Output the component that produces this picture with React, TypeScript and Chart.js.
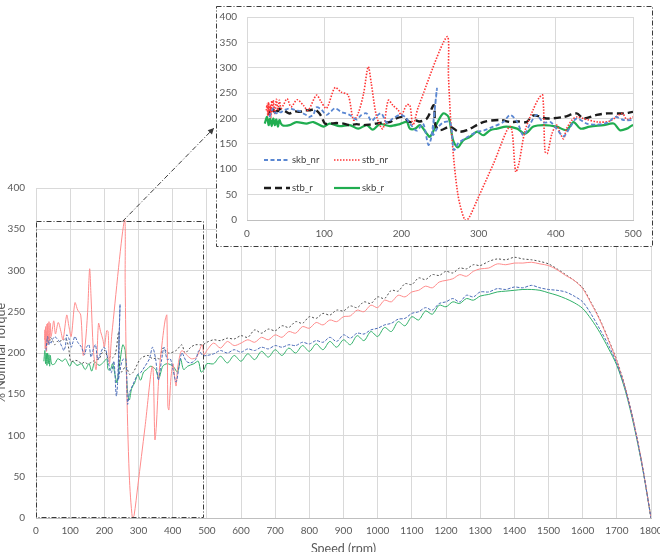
import React, { useEffect, useRef } from 'react';
import { Chart, registerables } from 'chart.js';

Chart.register(...registerables);

const FONT = 'Lato, "Open Sans", sans-serif';

// [speed (rpm), torque (% nominal)] for each run
const skbNr: [number, number][] = [
  [29, 203], [32, 215], [34, 220], [36, 212], [38, 210], [41, 214], [44, 212], [47, 216], [51, 218], [55, 220],
  [60, 218], [64, 216], [69, 214], [73, 210], [78, 206], [81, 203], [86, 208], [90, 222], [96, 218], [103, 207],
  [108, 213], [114, 220], [122, 213], [128, 210], [133, 207], [142, 198], [148, 207], [155, 210], [161, 195], [168, 205],
  [174, 210], [181, 192], [189, 200], [198, 207], [205, 203], [211, 190], [220, 176], [228, 190], [235, 148], [239, 165],
  [246, 259], [241, 168], [247, 182], [254, 192], [263, 193], [268, 138], [274, 152], [284, 162], [298, 174], [306, 176],
  [319, 184], [332, 193], [341, 207], [350, 193], [358, 167], [367, 190], [375, 207], [384, 192], [393, 193], [401, 180],
  [410, 165], [419, 184], [427, 200], [440, 190], [453, 188], [467, 192], [477, 203], [488, 197],
  [500, 197], [520, 199], [540, 203], [560, 200], [580, 204], [600, 201], [620, 205], [640, 203], [660, 207], [680, 205],
  [700, 209], [720, 207], [740, 210], [760, 209], [780, 213], [800, 211], [820, 215], [840, 213], [860, 219], [880, 214],
  [900, 222], [920, 218], [940, 224], [960, 223], [980, 228], [1000, 230], [1020, 234], [1040, 236], [1060, 241], [1080, 242],
  [1100, 248], [1120, 250], [1140, 255], [1160, 252], [1180, 260], [1200, 262], [1220, 266], [1240, 262], [1260, 270], [1280, 268],
  [1300, 274], [1325, 274], [1350, 278], [1375, 277], [1400, 280], [1425, 279], [1450, 282], [1475, 279], [1500, 277], [1525, 276],
  [1550, 274], [1575, 269], [1600, 262], [1625, 247], [1650, 229], [1675, 210], [1700, 187], [1725, 156], [1750, 114], [1775, 62],
  [1800, 0],
];

const stbNr: [number, number][] = [
  [25, 216], [26, 228], [27, 205], [28, 232], [29, 210], [30, 226], [31, 202], [32, 235], [33, 214], [34, 236],
  [36, 210], [38, 238], [40, 216], [42, 236], [44, 220], [47, 226], [52, 239], [57, 223], [65, 237], [73, 226],
  [79, 216], [90, 246], [96, 233], [103, 220], [114, 261], [122, 252], [131, 246], [138, 197], [144, 210], [151, 249],
  [157, 302], [161, 269], [168, 203], [176, 180], [183, 236], [189, 226], [196, 216], [200, 207], [207, 227], [211, 226],
  [215, 187], [222, 223], [259, 361], [261, 282], [265, 170], [273, 52], [282, 0], [287, 3], [298, 39], [319, 110],
  [341, 184], [348, 95], [352, 110], [360, 175], [370, 215], [378, 240], [383, 246], [386, 135], [389, 131], [395, 170],
  [401, 187], [406, 170], [410, 160], [414, 180], [421, 197], [427, 203], [440, 198], [455, 193], [470, 195], [486, 210],
  [492, 198],
  [500, 203], [520, 212], [540, 206], [560, 214], [580, 209], [600, 212], [620, 216], [640, 213], [660, 219], [680, 216],
  [700, 222], [720, 219], [740, 226], [760, 224], [780, 232], [800, 230], [820, 237], [840, 234], [860, 240], [880, 238],
  [900, 244], [920, 245], [940, 252], [960, 250], [980, 258], [1000, 255], [1020, 264], [1040, 262], [1060, 270], [1080, 268],
  [1100, 274], [1120, 276], [1140, 281], [1160, 279], [1180, 286], [1200, 288], [1220, 290], [1240, 295], [1260, 293], [1280, 299],
  [1300, 302], [1325, 303], [1350, 308], [1375, 307], [1400, 309], [1425, 309], [1450, 310], [1475, 308], [1500, 306], [1525, 301],
  [1550, 294], [1575, 288], [1600, 278], [1625, 260], [1650, 240], [1675, 216], [1700, 190], [1725, 157], [1750, 115], [1775, 63],
  [1800, 0],
];

const stbR: [number, number][] = [
  [28, 207], [30, 216], [32, 210], [34, 218], [36, 212], [38, 220], [40, 214], [42, 219], [45, 218], [50, 214],
  [55, 210], [62, 214], [68, 213], [75, 216], [81, 216], [87, 218], [92, 213], [96, 205], [101, 190], [108, 190],
  [116, 191], [125, 190], [133, 187], [142, 189], [150, 187], [159, 188], [167, 190], [176, 192], [185, 193], [193, 200],
  [202, 203], [211, 193], [219, 196], [224, 194], [233, 200], [242, 226], [244, 187], [250, 177], [263, 184], [274, 174],
  [285, 177], [306, 193], [328, 197], [341, 193], [352, 194], [362, 193], [371, 206], [388, 200], [410, 203], [427, 210],
  [436, 200], [453, 207], [467, 210], [488, 210],
  [500, 213], [520, 216], [540, 215], [560, 218], [580, 217], [600, 221], [620, 219], [640, 228], [660, 224], [680, 229],
  [700, 227], [720, 233], [740, 231], [760, 238], [780, 236], [800, 244], [820, 242], [840, 248], [860, 246], [880, 252],
  [900, 251], [920, 257], [940, 255], [960, 262], [980, 260], [1000, 268], [1020, 266], [1040, 276], [1060, 275], [1080, 284],
  [1100, 283], [1120, 291], [1140, 289], [1160, 295], [1180, 294], [1200, 299], [1220, 297], [1240, 303], [1260, 302], [1280, 307],
  [1300, 306], [1325, 311], [1350, 314], [1375, 313], [1400, 316], [1425, 314], [1450, 313], [1475, 311], [1500, 308], [1525, 302],
  [1550, 295], [1575, 288], [1600, 279], [1625, 261], [1650, 241], [1675, 217], [1700, 191], [1725, 158], [1750, 115], [1775, 63],
  [1800, 0],
];

const skbR: [number, number][] = [
  [23, 190], [26, 203], [28, 187], [30, 200], [32, 185], [34, 200], [36, 187], [38, 198], [40, 184], [42, 197],
  [44, 190], [47, 186], [55, 187], [64, 193], [77, 190], [86, 193], [99, 184], [107, 190], [120, 185], [133, 187],
  [144, 180], [155, 187], [163, 178], [172, 189], [185, 185], [198, 189], [207, 193], [211, 180], [218, 180], [224, 187],
  [233, 170], [237, 164], [246, 190], [254, 210], [261, 203], [267, 157], [273, 143], [280, 157], [289, 164], [298, 174],
  [306, 167], [315, 177], [324, 180], [336, 184], [350, 180], [360, 170], [371, 184], [384, 187], [401, 184], [414, 177],
  [423, 193], [432, 180], [444, 184], [462, 187], [475, 190], [483, 177], [492, 180],
  [500, 187], [520, 187], [540, 196], [560, 188], [580, 197], [600, 190], [620, 199], [640, 192], [660, 202], [680, 195],
  [700, 204], [720, 197], [740, 206], [760, 200], [780, 209], [800, 202], [820, 211], [840, 204], [860, 214], [880, 207],
  [900, 216], [920, 210], [940, 221], [960, 215], [980, 226], [1000, 220], [1020, 231], [1040, 226], [1060, 238], [1080, 233],
  [1100, 244], [1120, 240], [1140, 251], [1160, 247], [1180, 258], [1200, 256], [1220, 262], [1240, 260], [1260, 266], [1280, 264],
  [1300, 269], [1325, 271], [1350, 274], [1375, 275], [1400, 276], [1425, 277], [1450, 277], [1475, 276], [1500, 273], [1525, 270],
  [1550, 266], [1575, 261], [1600, 254], [1625, 241], [1650, 225], [1675, 206], [1700, 185], [1725, 154], [1750, 112], [1775, 61],
  [1800, 0],
];

const seriesNames = ['skb_nr', 'stb_nr', 'stb_r', 'skb_r'];
const seriesData = [skbNr, stbNr, stbR, skbR];

// full-range axes and the low-speed detail axes
const mainSpeedMax = 1800;
const detailSpeedMax = 500;
const torqueMax = 400;
const speedStep = 100;
const torqueStep = 50;

// region of the main plot that is enlarged in the detail panel
const detailWindow = { speedFrom: 0, speedTo: 490, torqueTo: 360, pointerSpeed: 253 };

type LineStyle = { color: string; width: number; dash: number[] };

const mainStyles: LineStyle[] = [
  { color: '#4a6bb8', width: 1, dash: [3, 1.5] },
  { color: '#ff8c8c', width: 1, dash: [] },
  { color: '#4d4d4d', width: 1, dash: [2, 2] },
  { color: '#2fb068', width: 1, dash: [] },
];

const detailStyles: LineStyle[] = [
  { color: '#5a87d2', width: 1.8, dash: [4, 2.5] },
  { color: '#ff3535', width: 1.6, dash: [1.5, 1.5] },
  { color: '#1c1c1c', width: 2.4, dash: [7, 4] },
  { color: '#20ad50', width: 2.2, dash: [] },
];

const PANEL = { left: 216, top: 6, width: 437, height: 241 };
const arrowTip = { x: 214, y: 128 };

const buildDatasets = (styles: LineStyle[]) =>
  seriesData.map((s, i) => ({
    label: seriesNames[i],
    data: s.map(([x, y]) => ({ x, y })),
    borderColor: styles[i].color,
    backgroundColor: styles[i].color,
    borderWidth: styles[i].width,
    borderDash: styles[i].dash,
    pointRadius: 0,
    tension: 0.3,
    fill: false,
  }));

const tickFont = { family: FONT, size: 10 };
const gridColor = '#d9d9d9';
const tickColor = '#595959';
const plainNumber = (v: number | string) => String(v);

const mainDecor = {
  id: 'mainDecor',
  afterDatasetsDraw(chart: any) {
    const { ctx, scales, chartArea } = chart;
    const xs = scales.x;
    const ys = scales.y;
    ctx.save();
    // dash-dot frame around the enlarged region
    ctx.strokeStyle = '#3a3a3a';
    ctx.lineWidth = 1;
    ctx.setLineDash([5, 2, 1, 2]);
    const l = Math.round(xs.getPixelForValue(detailWindow.speedFrom)) + 0.5;
    const r = Math.round(xs.getPixelForValue(detailWindow.speedTo)) + 0.5;
    const t = Math.round(ys.getPixelForValue(detailWindow.torqueTo)) + 0.5;
    const b = Math.round(ys.getPixelForValue(0)) - 0.5;
    ctx.strokeRect(l, t, r - l, b - t);
    // pointer from the frame to the detail panel
    const sx = xs.getPixelForValue(detailWindow.pointerSpeed);
    const sy = t;
    ctx.beginPath();
    ctx.moveTo(sx, sy);
    ctx.lineTo(arrowTip.x, arrowTip.y);
    ctx.stroke();
    ctx.setLineDash([]);
    const ang = Math.atan2(arrowTip.y - sy, arrowTip.x - sx);
    const len = 6;
    const half = 3;
    ctx.fillStyle = '#3a3a3a';
    ctx.beginPath();
    ctx.moveTo(arrowTip.x, arrowTip.y);
    ctx.lineTo(
      arrowTip.x - len * Math.cos(ang) + half * Math.sin(ang),
      arrowTip.y - len * Math.sin(ang) - half * Math.cos(ang)
    );
    ctx.lineTo(
      arrowTip.x - len * Math.cos(ang) - half * Math.sin(ang),
      arrowTip.y - len * Math.sin(ang) + half * Math.cos(ang)
    );
    ctx.closePath();
    ctx.fill();

    // axis titles
    ctx.fillStyle = tickColor;
    ctx.font = `12.5px ${FONT}`;
    ctx.textAlign = 'center';
    ctx.textBaseline = 'middle';
    ctx.fillText('Speed (rpm)', (chartArea.left + chartArea.right) / 2, 549);
    ctx.translate(1, (chartArea.top + chartArea.bottom) / 2);
    ctx.rotate(-Math.PI / 2);
    ctx.fillText('% Nominal Torque', 0, 0);
    ctx.restore();
  },
};

const legendSlots = [
  { x: 48, y: 154 },
  { x: 118, y: 154 },
  { x: 48, y: 182 },
  { x: 118, y: 182 },
];

const detailDecor = {
  id: 'detailDecor',
  beforeDraw(chart: any) {
    const { ctx, width, height } = chart;
    ctx.save();
    ctx.fillStyle = '#ffffff';
    ctx.fillRect(0, 0, width, height);
    ctx.restore();
  },
  afterDraw(chart: any) {
    const { ctx, width, height } = chart;
    ctx.save();
    // legend, two columns by two rows inside the plot
    ctx.font = `9.5px ${FONT}`;
    ctx.textBaseline = 'middle';
    ctx.textAlign = 'left';
    legendSlots.forEach((slot, i) => {
      const st = detailStyles[i];
      ctx.strokeStyle = st.color;
      ctx.lineWidth = st.width;
      ctx.setLineDash(st.dash);
      ctx.beginPath();
      ctx.moveTo(slot.x, slot.y);
      ctx.lineTo(slot.x + 26, slot.y);
      ctx.stroke();
      ctx.setLineDash([]);
      ctx.fillStyle = '#404040';
      ctx.fillText(seriesNames[i], slot.x + 28, slot.y);
    });
    // dash-dot panel border
    ctx.strokeStyle = '#3a3a3a';
    ctx.lineWidth = 1;
    ctx.setLineDash([5, 2, 1, 2]);
    ctx.strokeRect(0.5, 0.5, width - 1, height - 1);
    ctx.restore();
  },
};

export default function App() {
  const mainRef = useRef<HTMLCanvasElement>(null);
  const detailRef = useRef<HTMLCanvasElement>(null);

  useEffect(() => {
    const main = new Chart(mainRef.current as HTMLCanvasElement, {
      type: 'line',
      data: { datasets: buildDatasets(mainStyles) as any },
      options: {
        animation: false,
        responsive: false,
        devicePixelRatio: 1,
        layout: { padding: { top: 188, right: 9, left: 0, bottom: 0 } },
        plugins: { legend: { display: false }, tooltip: { enabled: false } },
        scales: {
          x: {
            type: 'linear',
            min: 0,
            max: mainSpeedMax,
            ticks: {
              stepSize: speedStep,
              autoSkip: false,
              maxRotation: 0,
              padding: 7,
              color: tickColor,
              font: tickFont,
              callback: plainNumber,
            },
            grid: { color: gridColor, drawTicks: false },
            border: { color: '#bfbfbf' },
            afterFit(s: any) {
              s.height = 34;
              s.paddingLeft = 0;
              s.paddingRight = 0;
            },
          },
          y: {
            type: 'linear',
            min: 0,
            max: torqueMax,
            ticks: { stepSize: torqueStep, padding: 11, color: tickColor, font: tickFont, callback: plainNumber },
            grid: { color: gridColor, drawTicks: false },
            border: { display: false },
            afterFit(s: any) {
              s.width = 36;
              s.paddingTop = 0;
              s.paddingBottom = 0;
            },
          },
        },
      },
      plugins: [mainDecor],
    });

    const detail = new Chart(detailRef.current as HTMLCanvasElement, {
      type: 'line',
      data: { datasets: buildDatasets(detailStyles) as any },
      options: {
        animation: false,
        responsive: false,
        devicePixelRatio: 1,
        layout: { padding: { top: 11, right: 20, left: 0, bottom: 0 } },
        plugins: { legend: { display: false }, tooltip: { enabled: false } },
        scales: {
          x: {
            type: 'linear',
            min: 0,
            max: detailSpeedMax,
            ticks: {
              stepSize: speedStep,
              autoSkip: false,
              maxRotation: 0,
              padding: 8,
              color: tickColor,
              font: tickFont,
              callback: plainNumber,
            },
            grid: { color: gridColor, drawTicks: false },
            border: { color: '#bfbfbf' },
            afterFit(s: any) {
              s.height = 27;
              s.paddingLeft = 0;
              s.paddingRight = 0;
            },
          },
          y: {
            type: 'linear',
            min: 0,
            max: torqueMax,
            ticks: { stepSize: torqueStep, padding: 10, color: tickColor, font: tickFont, callback: plainNumber },
            grid: { color: gridColor, drawTicks: false },
            border: { display: false },
            afterFit(s: any) {
              s.width = 31;
              s.paddingTop = 0;
              s.paddingBottom = 0;
            },
          },
        },
      },
      plugins: [detailDecor],
    });

    return () => {
      main.destroy();
      detail.destroy();
    };
  }, []);

  return (
    <div style={{ position: 'absolute', left: 0, top: 0, width: 660, height: 552, background: '#ffffff', overflow: 'hidden' }}>
      <canvas ref={mainRef} width={660} height={552} style={{ position: 'absolute', left: 0, top: 0 }} />
      <canvas
        ref={detailRef}
        width={PANEL.width}
        height={PANEL.height}
        style={{ position: 'absolute', left: PANEL.left, top: PANEL.top }}
      />
    </div>
  );
}
